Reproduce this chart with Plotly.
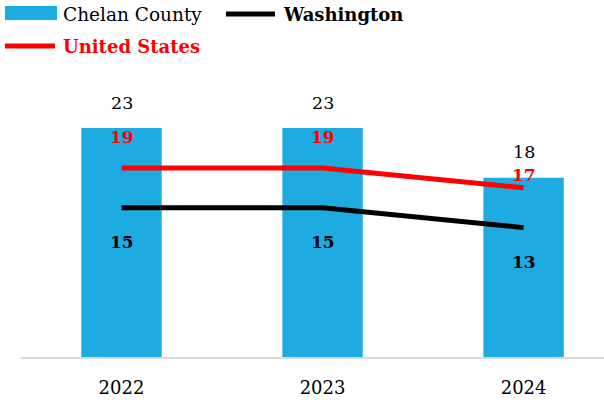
import plotly.graph_objects as go

years = ["2022", "2023", "2024"]
chelan = [23, 23, 18]
washington = [15, 15, 13]
united_states = [19, 19, 17]

FONT = "DejaVu Serif"
BLUE = "#1eabe2"
RED = "#ff0000"

W, H = 604, 400
M = {"l": 21, "r": 0, "t": 70, "b": 43}
PW = W - M["l"] - M["r"]
PH = H - M["t"] - M["b"]


def px(xp):
    # pixel x -> paper x
    return (xp - M["l"]) / PW


def py(yp):
    # pixel y (from top) -> paper y
    return (H - M["b"] - yp) / PH


fig = go.Figure()
fig.add_trace(
    go.Bar(
        x=years,
        y=chelan,
        name="Chelan County",
        marker={"color": BLUE, "line": {"width": 0}},
        width=0.4,
    )
)
fig.add_trace(
    go.Scatter(
        x=years,
        y=washington,
        mode="lines",
        name="Washington",
        line={"color": "black", "width": 5},
    )
)
fig.add_trace(
    go.Scatter(
        x=years,
        y=united_states,
        mode="lines",
        name="United States",
        line={"color": RED, "width": 5},
    )
)

# data labels
us_shift = [31, 31, 13]
bar_shift = [25, 25, 26]
for i in range(len(years)):
    fig.add_annotation(
        x=i, y=chelan[i], text=str(chelan[i]), showarrow=False, yshift=bar_shift[i],
        font={"family": FONT, "size": 17.5, "color": "black"},
    )
    fig.add_annotation(
        x=i, y=united_states[i], text=f"<b>{united_states[i]}</b>", showarrow=False,
        yshift=us_shift[i], font={"family": FONT, "size": 17, "color": RED},
    )
    fig.add_annotation(
        x=i, y=washington[i], text=f"<b>{washington[i]}</b>", showarrow=False,
        yshift=-34, font={"family": FONT, "size": 17, "color": "black"},
    )

# hand-drawn legend
fig.add_shape(type="rect", xref="paper", yref="paper",
              x0=px(5), x1=px(57), y0=py(20), y1=py(6),
              fillcolor=BLUE, line={"width": 0})
fig.add_shape(type="line", xref="paper", yref="paper",
              x0=px(226), x1=px(275), y0=py(14), y1=py(14),
              line={"color": "black", "width": 5})
fig.add_shape(type="line", xref="paper", yref="paper",
              x0=px(5), x1=px(55), y0=py(46), y1=py(46),
              line={"color": RED, "width": 5})
legend_text = [
    ("Chelan County", 62, 14, "black", 18.5),
    ("<b>Washington</b>", 282, 14, "black", 18),
    ("<b>United States</b>", 62, 46, RED, 18),
]
for text, x0, yc, color, size in legend_text:
    fig.add_annotation(
        xref="paper", yref="paper", x=px(x0), y=py(yc), text=text,
        xanchor="left", yanchor="middle", showarrow=False, borderpad=0,
        font={"family": FONT, "size": size, "color": color},
    )

fig.update_layout(
    width=W,
    height=H,
    margin=M,
    plot_bgcolor="white",
    paper_bgcolor="white",
    font={"family": FONT, "size": 18, "color": "black"},
    showlegend=False,
    xaxis={
        "type": "category",
        "range": [-0.5, 2.4],
        "showgrid": False,
        "showline": True,
        "linecolor": "#d9d9d9",
        "linewidth": 2,
        "ticks": "",
        "ticklabelstandoff": 13,
        "tickfont": {"family": FONT, "size": 18, "color": "black"},
        "fixedrange": True,
    },
    yaxis={
        "range": [0, 28.84],
        "visible": False,
        "showgrid": False,
        "zeroline": False,
        "fixedrange": True,
    },
)

# drop the default page margin so the chart fills the window
fig.write_html(
    "out.html",
    config={"displayModeBar": False},
    post_script="document.body.style.margin = '0';",
)
